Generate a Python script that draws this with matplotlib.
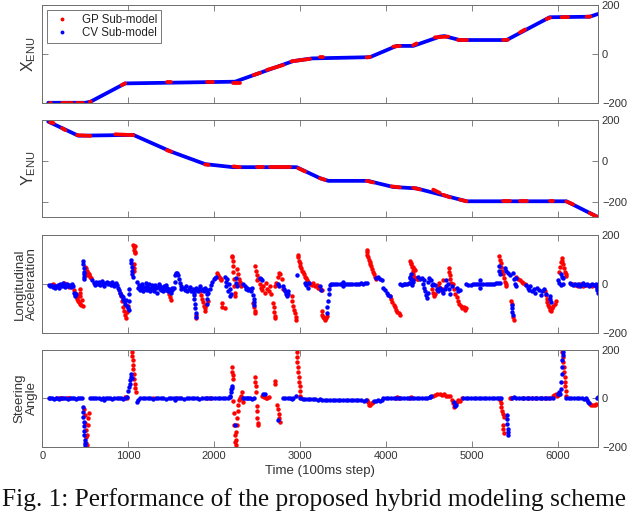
import matplotlib.pyplot as plt

# ---------------- data ----------------
# X_ENU trajectory (time step, value), drawn by the CV sub-model (blue)
x_enu_t = [70, 500, 560, 965, 2245, 2920, 3140, 3814, 4125, 4318, 4630, 4680, 4860, 5405, 5907, 6372, 6466]
x_enu_v = [-199, -199, -195, -120, -113, -29, -18, -13, 33, 33, 71, 73, 57, 57, 150, 152, 163]
# pieces of the X_ENU trajectory handled by the GP sub-model (t0, v0, t1, v1)
x_enu_gp = [(85, -199, 100, -199), (230, -199, 345, -199), (405, -199, 480, -199),
            (555, -196, 565, -194), (925, -127, 965, -120), (1450, -116, 1500, -116),
            (1915, -115, 1990, -115), (2225, -117, 2300, -117), (2460, -86, 2535, -77),
            (2615, -65, 2805, -45), (2900, -30, 3115, -20), (3233, -14, 3270, -14),
            (3776, -14, 3815, -12), (4085, 30, 4163, 33), (4318, 36, 4357, 43),
            (4570, 68, 4725, 71), (4840, 57, 4940, 57), (5365, 57, 5420, 58),
            (5560, 88, 5620, 100), (5870, 143, 5910, 148), (6045, 150, 6120, 151),
            (6335, 152, 6380, 153)]

# Y_ENU trajectory
y_enu_t = [70, 420, 1060, 1500, 1895, 2220, 2960, 3233, 3330, 3790, 4085, 4357, 4940, 6100, 6466]
y_enu_v = [192, 123, 127, 45, -16, -31, -31, -85, -98, -98, -128, -135, -198, -198, -275]
y_enu_gp = [(93, 188, 132, 185), (230, 160, 270, 150), (405, 126, 560, 122),
            (850, 130, 1060, 126), (1450, 52, 1500, 45), (1895, -18, 1935, -20),
            (2225, -27, 2300, -31), (2495, -31, 2575, -31), (2650, -31, 2885, -31),
            (2980, -36, 3060, -52), (3233, -85, 3290, -93), (3776, -98, 3853, -106),
            (4066, -125, 4163, -130), (4318, -132, 4396, -140), (4551, -141, 4628, -157),
            (4667, -166, 4745, -179), (4861, -190, 4938, -198), (5365, -199, 5442, -199),
            (5560, -198, 5637, -198), (5907, -198, 5946, -198), (6101, -199, 6179, -213),
            (6373, -256, 6450, -272)]

# Longitudinal acceleration, points by sub-model (time step, value)
acc_cv = [(75, -5), (90, -10), (105, -3), (120, -12), (135, -8), (150, -18), (165, -10), (180, -5),
          (195, -15), (210, 0), (225, -8), (240, 5), (255, -3), (270, -12), (285, 2), (300, -8),
          (315, -5), (330, -14), (345, 0), (360, -10), (370, -35), (378, -42), (385, -48), (392, -40),
          (478, 95), (480, 80), (482, 65), (484, 50), (486, 40), (488, 30), (490, 20),
          (585, 15), (600, 5), (615, -5), (630, 10), (645, 0), (660, 8), (675, -3), (690, 12),
          (705, 2), (720, -8), (735, 5), (750, 10), (765, -2), (780, 6), (795, -6), (810, 8),
          (825, 0), (840, -10), (855, 3), (870, -5), (885, -15),
          (895, -25), (905, -35), (915, -45), (925, -50), (935, -60), (945, -55), (955, -70),
          (965, -80), (975, -65), (985, -90), (995, -100), (1005, -105),
          (1010, -20), (1012, -40), (1014, -70),
          (1030, 100), (1035, 85), (1040, 70), (1045, 55), (1050, 40), (1055, 30),
          (1105, 10), (1115, -15), (1125, -5), (1135, -25), (1145, -10), (1155, -20), (1165, 0),
          (1175, -30), (1185, -12), (1195, -20), (1205, 5), (1215, -25), (1225, -8), (1235, -18),
          (1245, 0), (1255, -30), (1265, -15), (1275, -5), (1285, -22), (1295, -10), (1305, -28),
          (1315, -5), (1325, -15), (1335, -35), (1345, -12), (1355, 0), (1365, -20), (1375, -8),
          (1385, -25), (1395, -15), (1405, -30), (1415, -10), (1425, -20), (1435, -5), (1445, -25),
          (1455, -15), (1465, -30), (1475, -20), (1485, -28), (1495, -35), (1505, -15), (1515, -25),
          (1530, -15), (1540, 10), (1550, 35), (1560, 45), (1570, 43), (1580, 35), (1590, 20),
          (1600, 5), (1610, -10), (1620, -20),
          (1645, -15), (1660, -25), (1675, -10), (1690, -30), (1705, -20), (1720, -12), (1735, -28),
          (1750, -20), (1765, -35), (1780, -25), (1795, -15), (1810, -30), (1825, -20), (1840, -10),
          (1855, -25), (1870, -20), (1885, -30), (1900, -15), (1915, -25),
          (1765, -45), (1770, -60), (1775, -80), (1780, -100), (1785, -120), (1790, -135),
          (1918, -40), (1920, -60), (1922, -80),
          (1935, -35), (1950, -20), (1965, -5), (1980, 10), (1995, 20), (2010, 25), (2025, 30),
          (2128, 30), (2135, 10), (2140, -10), (2150, 20), (2160, -30), (2170, 0), (2180, -50),
          (2190, -20), (2200, -40), (2250, 25), (2258, 5), (2265, -10),
          (2340, 0), (2355, -10), (2370, -20), (2385, -15), (2400, -25), (2415, -20), (2430, -30),
          (2440, -15), (2458, -45), (2462, -60), (2466, -75), (2470, -84),
          (2535, 25), (2545, 20), (2555, 18), (2748, 0), (2750, -10),
          (2806, -10), (2815, -20), (2825, -30), (2835, -40), (2845, -50), (2855, -40), (2865, -30),
          (2961, 38), (3060, 5), (3075, -5), (3090, -15), (3105, 5), (3233, -10), (3243, -25),
          (3310, -120), (3318, -95), (3325, -70), (3333, -40), (3340, -20), (3350, -5),
          (3360, 2), (3385, 0), (3410, 1), (3435, 0), (3460, 0), (3485, -2), (3500, 10), (3502, -10),
          (3510, 0), (3535, 0), (3560, 1), (3585, 0), (3610, 0), (3635, 2), (3660, 1), (3685, 2),
          (3710, 3), (3735, 2), (3760, 4), (3775, 5),
          (3890, 25), (3910, 30), (3930, 22), (3950, 18), (3970, -16), (3990, -25), (4010, -35),
          (4030, -45), (4050, -50),
          (4163, 0), (4185, -3), (4205, 2), (4225, 0), (4245, -2), (4265, 3), (4280, 5), (4285, 25),
          (4287, 40),
          (4282, 30), (4290, 20), (4300, -5), (4310, 10), (4320, 15),
          (4376, 30), (4395, 20), (4415, 25), (4440, 18),
          (4434, 0), (4445, -15), (4455, -30), (4465, -45), (4480, -57), (4490, -35),
          (4492, 10), (4505, 25), (4520, 15), (4535, -5), (4550, 0),
          (4570, -5), (4590, -20), (4610, -30), (4630, -15), (4650, -25), (4670, -35), (4690, -20),
          (4705, -10), (4705, 15), (4720, 0), (4735, -20), (4750, -40), (4765, -10),
          (4822, -15), (4840, -30), (4860, -25),
          (4938, 0), (4960, -5), (4985, -3), (5010, 0), (5035, -2), (5060, 0), (5085, -2), (5095, 15),
          (5097, -15), (5110, 0), (5135, 0), (5160, 1), (5185, 0), (5210, 0), (5235, 2), (5260, 1),
          (5285, 3), (5305, 4), (5325, 5),
          (5318, 72), (5322, 55), (5325, 40),
          (5384, 65), (5400, 55), (5420, 45), (5440, 38),
          (5468, -85), (5470, -100), (5472, -115), (5474, -125),
          (5480, 45), (5490, 20), (5500, 0), (5510, -10), (5520, 25),
          (5635, -5), (5650, -15), (5665, -25), (5680, -10), (5700, -30), (5720, -20), (5740, -35),
          (5760, -15), (5780, -25), (5800, -45), (5820, -30), (5840, -20), (5860, -40),
          (5905, -50), (5915, -60), (5925, -75),
          (6003, 15), (6020, 5), (6040, -5), (6060, 0), (6040, 40), (6050, 30), (6062, 25),
          (6140, 5), (6160, 0), (6180, -5), (6200, 2), (6220, -3), (6240, 0), (6260, -8), (6280, -2),
          (6300, 3), (6320, -5), (6340, 0), (6360, -8), (6380, -3), (6400, 0), (6420, -5), (6440, -2),
          (6450, -10), (6455, -15), (6462, -25), (6470, -35)]

acc_gp = [(120, 0), (135, -5), (255, 5), (265, -5), (280, 0), (295, -8), (310, -12),
          (370, -25), (380, -35), (390, -45), (400, -55), (410, -60), (420, -70), (430, -75),
          (440, -80), (450, -85), (460, -65), (470, -90), (445, -50), (440, -20), (445, -35),
          (500, 70), (510, 65), (520, 55), (530, 45), (540, 40), (550, 35), (560, 30), (570, 25),
          (515, 40), (525, 35),
          (900, -35), (915, -50), (930, -70), (945, -95), (955, -110), (965, -125), (975, -140),
          (985, -115), (1000, -90),
          (1060, 160), (1065, 150), (1070, 140), (1075, 130), (1080, 125), (1085, 155),
          (1065, 80), (1068, 65), (1070, 55),
          (1470, -25), (1480, -40), (1490, -55), (1500, -65), (1785, -125), (1790, -140),
          (1840, -30), (1850, -45), (1860, -60), (1870, -75), (1880, -90), (1890, -100),
          (1900, -110), (1910, -85), (1925, -70),
          (2035, 45), (2045, 38), (2055, 30), (2065, 25), (2075, 20), (2085, 18),
          (2090, -78), (2095, -95), (2128, -98),
          (2205, 110), (2210, 113), (2215, 95), (2220, 75), (2225, 50), (2230, 20), (2235, -10),
          (2240, -35), (2245, -50),
          (2265, 60), (2275, 40), (2285, 20), (2295, 0), (2305, 10), (2315, -10),
          (2458, -78), (2465, -95), (2472, -110), (2480, -118),
          (2477, 72), (2485, 55), (2495, 35), (2505, 18),
          (2515, 20), (2530, 0), (2545, -15), (2560, -25), (2575, -10), (2590, -35), (2605, 5),
          (2620, -20), (2635, -30), (2650, -10), (2665, -40),
          (2690, -78), (2695, -95), (2700, -115), (2705, -130), (2710, -140),
          (2710, -10), (2725, 5), (2740, 30), (2755, 45), (2770, 40), (2785, 20), (2800, -20),
          (2903, -50), (2910, -70), (2920, -90), (2930, -105), (2940, -120), (2950, -135),
          (2958, -145),
          (2975, 120), (2980, 110), (2985, 95), (2995, 85), (3005, 75), (3015, 65), (3025, 55),
          (3035, 50), (3045, 40), (3055, 30), (3065, 25), (3078, 18),
          (3097, 10), (3115, 0), (3135, -5), (3155, 5), (3175, -10), (3195, -5), (3215, -15),
          (3235, -20), (3252, -25),
          (3252, -110), (3262, -125), (3272, -135), (3282, -140), (3292, -145), (3302, -140),
          (3312, -130),
          (3775, 140), (3780, 130), (3785, 120), (3790, 110), (3800, 100), (3810, 90), (3820, 80),
          (3830, 72), (3840, 60), (3850, 50), (3860, 40), (3870, 30), (3880, 20),
          (4047, -50), (4060, -60), (4075, -75), (4090, -85), (4105, -95), (4120, -105),
          (4135, -115), (4150, -120), (4163, -125),
          (4280, 92), (4295, 80), (4310, 70), (4325, 62), (4340, 58),
          (4290, 86), (4300, 70), (4310, 55), (4320, 40), (4330, 30), (4340, 25), (4360, 20),
          (4355, 25), (4370, 20),
          (4531, -20), (4545, -35), (4560, -50), (4575, -40), (4590, -25), (4605, -10), (4620, 5),
          (4635, -15), (4650, -30), (4665, -20), (4667, 18),
          (4736, 65), (4740, 50), (4745, 35), (4750, 20), (4760, 4),
          (4783, 0), (4795, -20), (4810, -40), (4825, -55), (4840, -70), (4855, -80), (4870, -90),
          (4890, -100), (4905, -95), (4920, -105), (4935, -100),
          (5318, 113), (5325, 100), (5335, 85), (5345, 70), (5355, 55), (5365, 40), (5375, 25),
          (5385, 10), (5395, 0), (5403, -10),
          (5461, -70), (5465, -80), (5485, -135), (5488, -145),
          (5520, 30), (5540, 20), (5560, 15), (5580, 10), (5600, 5), (5620, 0), (5635, -5),
          (5849, -30), (5860, -45), (5870, -60), (5880, -75), (5890, -85), (5900, -95),
          (5910, -105), (5920, -110), (5935, -100), (5950, -90), (5965, -80), (5980, -70),
          (6015, 50), (6025, 70), (6035, 90), (6045, 106), (6055, 95), (6065, 80), (6075, 65),
          (6085, 50), (6095, 40), (6100, 31),
          (6180, 0), (6200, -3), (6220, -5), (6240, -10), (6260, 0), (6280, -5), (6300, -8),
          (6330, -5), (6390, -5), (6400, -10)]

# Steering angle, points by sub-model
steer_cv = [(74, 0), (95, 0), (115, 2), (135, -2), (155, 0), (175, 1), (195, -1), (220, 0),
            (245, 2), (270, 0), (295, -1), (320, 0), (345, 2), (370, 0), (395, -1), (420, 0),
            (445, 1), (462, 0),
            (473, -35), (476, -55), (479, -75), (482, -95), (485, -115), (488, -135), (491, -150),
            (494, -170), (497, -185), (500, -192),
            (558, 0), (580, 0), (605, 2), (630, 0), (655, 1), (680, -1), (705, 0), (720, -5),
            (740, 0), (765, 1), (790, 0), (815, -2), (840, 0), (865, 1), (890, 0), (915, 0),
            (940, -2), (965, 0), (985, 5),
            (1004, 30), (1010, 46), (1016, 60), (1022, 75), (1028, 90), (1034, 100), (1040, 85),
            (1100, -15),
            (1120, -5), (1140, 0), (1170, 2), (1200, 0), (1230, 1), (1260, 0), (1290, -1),
            (1320, 0), (1350, 1), (1380, 0), (1410, 0), (1440, -2), (1470, 0), (1500, 1),
            (1530, 0), (1550, -5), (1560, 0), (1590, 1), (1620, 0), (1650, -1), (1680, 0),
            (1710, 0), (1740, 1), (1770, 0), (1800, 0), (1830, -1), (1860, 0), (1890, 1),
            (1920, 0), (1950, 0), (1980, 1), (2010, 0), (2040, 0), (2070, 1), (2100, 0),
            (2130, 0), (2160, 1), (2186, 5),
            (2190, 12), (2196, 25), (2202, 40), (2208, 53), (2214, 45), (2245, -110),
            (2340, 0), (2360, 0), (2380, 1), (2400, 0), (2420, 0), (2440, -1), (2460, 0),
            (2575, 20), (2590, 18), (2746, -90),
            (2806, 0), (2830, 1), (2855, 0), (2880, 0), (2905, -1), (2922, 0), (2953, 12),
            (3000, 0), (3030, -2), (3060, -3), (3090, -2), (3120, -3), (3150, -4), (3180, -3),
            (3210, -5), (3233, -4), (3260, -5), (3290, -6), (3320, -5), (3350, -6), (3380, -7),
            (3410, -6), (3440, -7), (3470, -8), (3500, -7), (3530, -8), (3560, -7), (3590, -8),
            (3620, -8), (3650, -7), (3680, -8), (3710, -8), (3740, -9), (3770, -8),
            (3860, -10), (3885, -12), (3910, -8), (3935, -10), (3960, -5),
            (3970, 0), (4000, 2), (4030, 3), (4060, 2), (4090, 3), (4120, 2), (4150, 3),
            (4180, 2), (4210, 3), (4240, 2), (4270, 3), (4300, 2), (4330, 3), (4360, 2),
            (4390, 1), (4420, 2), (4450, 3), (4480, 2), (4512, 5), (4512, 8), (4520, 10),
            (4790, -15), (4800, -25), (4810, -30), (4820, -25),
            (4900, 0), (4930, 1), (4960, 0), (4990, 0), (5020, 1), (5050, 0), (5080, 0),
            (5110, 1), (5140, 0), (5170, 0), (5200, 1), (5230, 0), (5260, 0), (5290, 1),
            (5320, 0), (5345, 0),
            (5404, -69), (5408, -85), (5412, -105), (5416, -125), (5420, -140), (5423, -151),
            (5462, 2), (5490, 5), (5520, 0), (5550, 1), (5580, 0), (5610, 0), (5640, 1),
            (5670, 0), (5700, 0), (5730, 1), (5760, 0), (5790, 0), (5820, 1), (5850, 0),
            (5880, 0), (5910, 1), (5946, 3),
            (6005, 19), (6015, 25), (6025, 20), (6035, 40), (6040, 70), (6045, 100), (6050, 130),
            (6055, 160), (6060, 180), (6062, 190),
            (6101, 2), (6130, 0), (6160, 1), (6190, 0), (6220, 0), (6250, 1), (6280, 0),
            (6310, -2), (6334, 0), (6340, -8), (6350, -15), (6360, -20),
            (6455, 0), (6466, 5)]

steer_gp = [(190, 0), (205, 1), (225, 0), (285, 0), (300, 1), (315, 0),
            (490, -42), (495, -70), (500, -100), (505, -130), (510, -160), (515, -185), (520, -192),
            (525, -150), (530, -110), (535, -80), (540, -60),
            (965, 5), (975, 8), (985, 0),
            (1043, 190), (1048, 175), (1052, 160), (1056, 140), (1060, 120), (1065, 100),
            (1070, 80), (1075, 60), (1080, 45), (1090, 26),
            (1290, 0), (1565, 0), (1920, 0), (1950, 1),
            (2206, 128), (2212, 110), (2218, 95), (2224, 80),
            (2225, -10), (2230, -60), (2235, -110), (2240, -150), (2245, -180), (2250, -192),
            (2255, -170), (2260, -140), (2265, -110), (2270, -80), (2275, -50), (2280, -25),
            (2290, -5), (2300, 0), (2310, 10), (2320, 25), (2330, 0), (2340, -15),
            (2477, 87), (2480, 70), (2483, 50), (2486, 26),
            (2496, -30), (2500, -50), (2505, -80), (2510, -100), (2515, -110),
            (2560, 10), (2580, 5), (2600, 0), (2620, 2), (2640, 5), (2710, 73), (2712, 60),
            (2730, -28), (2740, -45), (2750, -65), (2760, -80), (2770, -97),
            (2960, 190), (2965, 170), (2970, 150), (2975, 130), (2980, 110), (2985, 90),
            (2990, 70), (2995, 50), (3000, 30), (3005, 10), (3010, 0),
            (3776, -8), (3790, -15), (3805, -25), (3820, -28), (3835, -20), (3853, -15),
            (4120, 2), (4135, 5), (4150, 0), (4280, 3), (4290, 5),
            (4551, 10), (4575, 15), (4600, 19), (4625, 18), (4650, 15), (4675, 17), (4700, 12),
            (4725, 10), (4745, 10),
            (4764, -8), (4780, -20), (4795, -35), (4810, -25), (4830, -15), (4845, -5),
            (4861, -10), (4880, 0),
            (5326, -8), (5335, -20), (5345, -35), (5355, -50), (5365, -65), (5375, -76),
            (5365, -110), (5368, -125), (5370, -144),
            (5440, 0), (5455, 2), (5600, 0), (5650, 1), (5700, 0), (5750, 0), (5800, 1),
            (5850, 0), (5900, 0),
            (5946, 10), (5960, 15), (5975, 20), (5990, 12), (6005, 15),
            (6055, 190), (6060, 170), (6065, 150), (6070, 130), (6075, 110), (6080, 90),
            (6085, 70), (6090, 50), (6095, 30), (6101, 12),
            (6373, -22), (6390, -28), (6410, -25), (6430, -28), (6450, -22)]

x_ticks = [0, 1000, 2000, 3000, 4000, 5000, 6000]
y_ticks = [-200, 0, 200]

# ---------------- plotting ----------------
plt.rcParams['font.family'] = ['Liberation Sans', 'DejaVu Sans']
plt.rcParams['mathtext.fontset'] = 'custom'
plt.rcParams['mathtext.rm'] = 'Liberation Sans'
plt.rcParams['mathtext.it'] = 'Liberation Sans'

RED = '#ff0000'
BLUE = '#0000ff'
AX_COL = '#6e6e6e'
TXT_COL = '#333333'

fig = plt.figure(figsize=(6.4, 5.13), dpi=100)
left, width = 0.066, 0.868
boxes = [(0.7992, 0.1911), (0.5770, 0.1891), (0.3509, 0.1910), (0.1287, 0.1890)]
axes = [fig.add_axes([left, b, width, h]) for b, h in boxes]

for ax in axes:
    ax.set_xlim(0, 6466)
    ax.set_xticks(x_ticks)
    ax.set_yticks(y_ticks)
    ax.tick_params(direction='in', top=True, bottom=True, left=True, right=True,
                   labelleft=False, labelright=True, labelbottom=False,
                   length=4, width=0.6, color=AX_COL, labelsize=8, labelcolor=TXT_COL, pad=3)
    for s in ax.spines.values():
        s.set_color(AX_COL)
        s.set_linewidth(0.7)

ms = 3.2
lw = 2.7

# X_ENU
ax = axes[0]
ax.set_ylim(-200, 200)
ax.plot(x_enu_t, x_enu_v, color=BLUE, lw=lw, solid_capstyle='round')
for t0, v0, t1, v1 in x_enu_gp:
    ax.plot([t0, t1], [v0, v1], color=RED, lw=lw, solid_capstyle='round')
ax.plot([], [], 'o', color=RED, ms=2.8, mew=0, label='GP Sub-model')
ax.plot([], [], 'o', color=BLUE, ms=2.8, mew=0, label='CV Sub-model')
leg = ax.legend(loc='upper left', fontsize=8.3, frameon=True, fancybox=False,
                borderaxespad=0.45, handlelength=2.0, handletextpad=0.7,
                borderpad=0.3, labelspacing=0.15)
leg.get_frame().set_edgecolor('#555555')
leg.get_frame().set_linewidth(0.7)
for txt in leg.get_texts():
    txt.set_color('#222222')
ax.set_ylabel(r'X$_{\mathrm{ENU}}$', fontsize=11.5, color=TXT_COL)

# Y_ENU
ax = axes[1]
ax.set_ylim(-275, 200)
ax.plot(y_enu_t, y_enu_v, color=BLUE, lw=lw, solid_capstyle='round')
for t0, v0, t1, v1 in y_enu_gp:
    ax.plot([t0, t1], [v0, v1], color=RED, lw=lw, solid_capstyle='round')
ax.set_ylabel(r'Y$_{\mathrm{ENU}}$', fontsize=11.5, color=TXT_COL)

# Longitudinal acceleration
ax = axes[2]
ax.set_ylim(-200, 200)
t, v = zip(*acc_gp)
ax.plot(t, v, 'o', color=RED, ms=ms, mew=0)
t, v = zip(*acc_cv)
ax.plot(t, v, 'o', color=BLUE, ms=ms, mew=0)
ax.set_ylabel('Longitudinal\nAcceleration', fontsize=9.5, color=TXT_COL, linespacing=1.0)

# Steering angle
ax = axes[3]
ax.set_ylim(-200, 200)
t, v = zip(*steer_gp)
ax.plot(t, v, 'o', color=RED, ms=ms, mew=0)
t, v = zip(*steer_cv)
ax.plot(t, v, 'o', color=BLUE, ms=ms, mew=0)
ax.set_ylabel('Steering\nAngle', fontsize=9.5, color=TXT_COL, linespacing=1.0)
ax.tick_params(labelbottom=True)
ax.set_xlabel('Time (100ms step)', fontsize=9.5, color=TXT_COL, labelpad=3)

for ax in axes:
    ax.yaxis.set_label_coords(-0.008, 0.5)

# caption line of the paper figure at the bottom edge
fig.text(0.003, 0.014, 'Fig. 1: Performance of the proposed hybrid modeling scheme',
         fontsize=18.3, family='Liberation Serif', ha='left', va='baseline', color='#111111')

fig.savefig('out.png', dpi=100)
